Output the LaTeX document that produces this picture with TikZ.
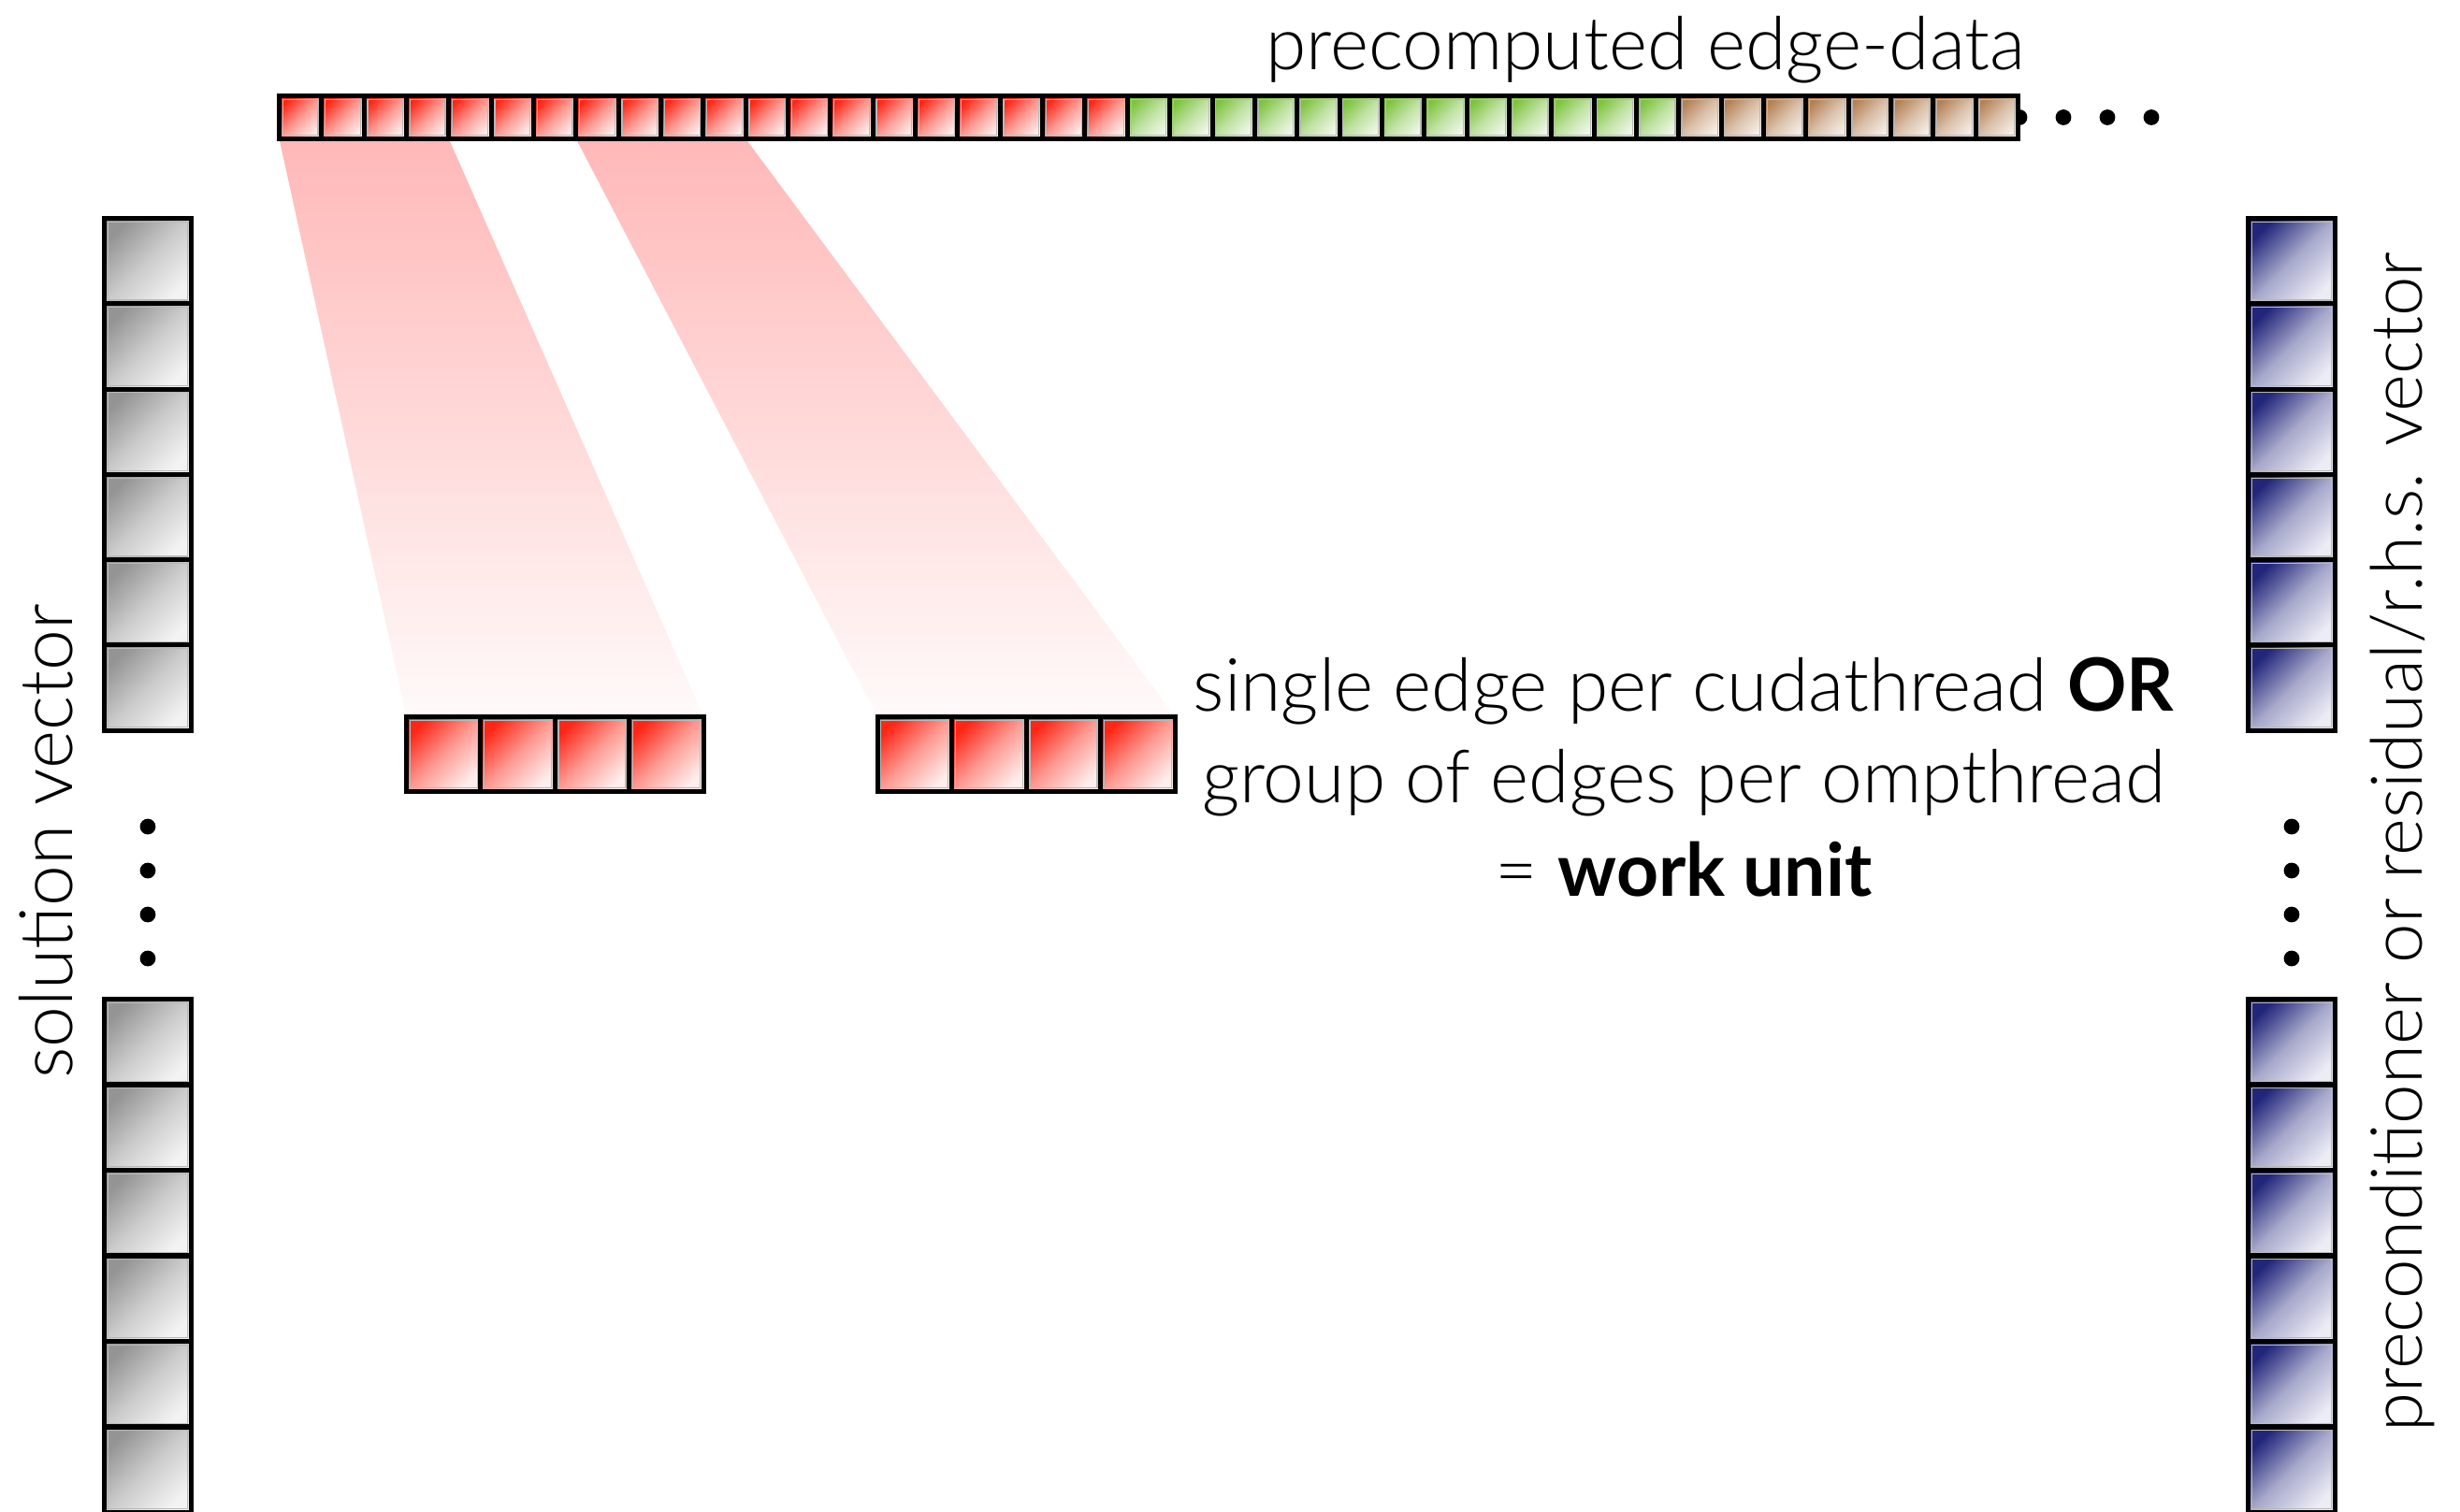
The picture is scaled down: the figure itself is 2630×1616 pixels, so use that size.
\documentclass[tikz,border=0pt]{standalone}
\usepackage{fontspec}
\setmainfont{Lato Light}[BoldFont={Lato Bold}]

% cell gradients: strong colour top-left, pale bottom-right
\definecolor{redA}{RGB}{255,38,22}
\definecolor{redB}{RGB}{255,238,236}
\definecolor{grnA}{RGB}{125,195,62}
\definecolor{grnB}{RGB}{240,248,234}
\definecolor{tanA}{RGB}{180,128,84}
\definecolor{tanB}{RGB}{246,239,232}
\definecolor{gryA}{RGB}{148,148,148}
\definecolor{gryB}{RGB}{243,243,243}
\definecolor{bluA}{RGB}{34,38,122}
\definecolor{bluB}{RGB}{236,236,245}
\definecolor{beamtop}{RGB}{255,184,184}
\definecolor{beambot}{RGB}{255,250,250}

\pgfdeclarelayer{bg}
\pgfsetlayers{bg,main}

\tikzset{
  cell/.style={draw=black, line width=1.25pt, inner sep=0pt, outer sep=0pt,
    path picture={\draw[black!28, line width=0.3pt]
      ([shift={(0.95pt,-0.95pt)}]path picture bounding box.north west) rectangle
      ([shift={(-0.95pt,0.95pt)}]path picture bounding box.south east);}},
  grad/.style n args={3}{top color=#1, bottom color=#2, middle color=#1!#3!#2, shading angle=45},
  edgecell/.style={cell, minimum width=11.335pt, minimum height=11.5pt},
  veccell/.style={cell, minimum width=23.25pt, minimum height=22.85pt},
  unitcell/.style={cell, minimum width=19.9pt, minimum height=20pt},
  dot/.style={circle, fill=black, inner sep=0pt, minimum size=4.2pt},
  beam/.style={top color=beamtop, bottom color=beambot},
  lbl/.style={font=\fontsize{19.65pt}{23pt}\selectfont, inner sep=0pt}
}

\begin{document}
\begin{tikzpicture}[x=0.25pt, y=-0.25pt]
\useasboundingbox (0,0) rectangle (2630,1616);

% continuation dots behind the end of the edge-data array
\foreach \k in {0,...,3}
  \node[dot] (h\k) at ({2159+\k*47}, 125.5) {};

% precomputed edge-data array
\foreach \i in {1,...,20}
  \node[edgecell, grad={redA}{redB}{42}] (e\i) at ({298.5+(\i-0.5)*45.34}, 125.5) {};
\foreach \i in {21,...,33}
  \node[edgecell, grad={grnA}{grnB}{42}] (e\i) at ({298.5+(\i-0.5)*45.34}, 125.5) {};
\foreach \i in {34,...,41}
  \node[edgecell, grad={tanA}{tanB}{42}] (e\i) at ({298.5+(\i-0.5)*45.34}, 125.5) {};

% work units
\foreach \i in {1,...,4}{
  \node[unitcell, grad={redA}{redB}{42}] (a\i) at ({434.5+(\i-0.5)*79.4}, 806.5) {};
  \node[unitcell, grad={redA}{redB}{42}] (b\i) at ({938+(\i-0.5)*79.6}, 806.5) {};
}

% solution vector (left) and preconditioner / residual vector (right)
\foreach \i in {1,...,6}{
  \node[veccell, grad={gryA}{gryB}{42}] (s\i) at (158, {233.5+(\i-0.5)*91.3}) {};
  \node[veccell, grad={gryA}{gryB}{42}] (t\i) at (158, {1068.5+(\i-0.5)*91.5}) {};
  \node[veccell, grad={bluA}{bluB}{34}] (p\i) at (2450, {233.5+(\i-0.5)*91.3}) {};
  \node[veccell, grad={bluA}{bluB}{34}] (q\i) at (2450, {1068.5+(\i-0.5)*91.5}) {};
}

% vertical continuation dots
\foreach \k in {0,...,3}{
  \node[dot] (vl\k) at (158, {884+\k*47}) {};
  \node[dot] (vr\k) at (2450, {884+\k*47}) {};
}

% beams from the edge-data array down to the work units
\begin{pgfonlayer}{bg}
  \shade[beam] (e1.south west) -- (e4.south east) -- (a4.north east) -- (a1.north west) -- cycle;
  \shade[beam] (e8.south west) -- (e11.south east) -- (b4.north east) -- (b1.north west) -- cycle;
\end{pgfonlayer}

% labels
\node[lbl, anchor=base east] (top) at (2166, 75) {precomputed edge-data};
\node[lbl, anchor=base] (l1) at (1800, 760) {single edge per cudathread \textbf{OR}};
\node[lbl, anchor=base] (l2) at (1800, 858) {group of edges per ompthread};
\node[lbl, anchor=base] (l3) at (1800, 958) {= \textbf{work unit}};
\node[lbl, anchor=base, rotate=90] (sol) at (78, 900) {solution vector};
\node[lbl, anchor=base, rotate=90, font=\fontsize{19.05pt}{23pt}\selectfont] (pre) at (2589, 901)
  {preconditioner or residual/r.h.s. vector};
\end{tikzpicture}
\end{document}
